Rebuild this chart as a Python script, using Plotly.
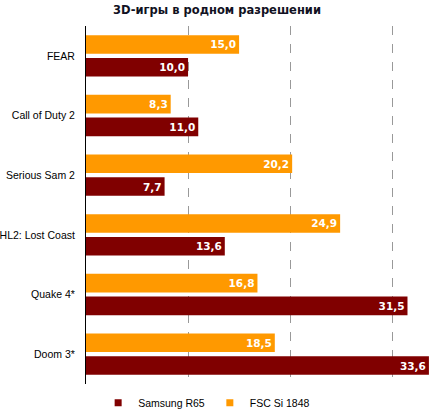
import plotly.graph_objects as go

categories = ["FEAR", "Call of Duty 2", "Serious Sam 2", "HL2: Lost Coast", "Quake 4*", "Doom 3*"]
fsc_values = [15.0, 8.3, 20.2, 24.9, 16.8, 18.5]
samsung_values = [10.0, 11.0, 7.7, 13.6, 31.5, 33.6]
series_names = ["FSC Si 1848", "Samsung R65"]
colors = ["#FF9900", "#800000"]

def fmt(v):
    return f"{v:.1f}".replace(".", ",")

fig = go.Figure()
for name, vals, col in zip(series_names, [fsc_values, samsung_values], colors):
    fig.add_trace(go.Bar(
        y=categories, x=vals, orientation="h", name=name, showlegend=False,
        marker=dict(color=col, line=dict(width=0)),
        text=[fmt(v) for v in vals], textposition="inside",
        insidetextanchor="end",
        textfont=dict(family="'DejaVu Sans', sans-serif", size=10.5, color="white", weight="bold"),
        cliponaxis=False,
    ))
# legend entries with small square markers
for name, col in zip(series_names, colors):
    fig.add_trace(go.Scatter(
        x=[None], y=[None], mode="markers", name=name,
        marker=dict(symbol="square", size=7, color=col),
    ))

fig.update_layout(
    width=434, height=418,
    margin=dict(l=86, r=1, t=26, b=25),
    paper_bgcolor="white", plot_bgcolor="white",
    barmode="group", bargap=0.236, bargroupgap=0.185,
    title=dict(text="<b>3D-игры в родном разрешении</b>", x=0.5, xanchor="center", y=0.985, yanchor="top",
               font=dict(family="'DejaVu Sans', sans-serif", size=11.5, color="#111122")),
    font=dict(family="'Liberation Sans', Arial, sans-serif", size=10.5, color="black"),
    showlegend=True,
    legend=dict(orientation="h", traceorder="reversed", x=0.035, xanchor="left", y=-0.012, yanchor="top",
                font=dict(size=10.5, color="black"), itemwidth=30, bgcolor="rgba(0,0,0,0)"),
    xaxis=dict(range=[0, 34], dtick=10, showticklabels=False, showgrid=True, gridcolor="#999999",
               griddash="dash", gridwidth=1, zeroline=False, showline=False, ticks="", automargin=False),
    yaxis=dict(autorange="reversed", showline=True, linecolor="black", linewidth=1, ticks="",
               ticklabelstandoff=8, showgrid=False, automargin=False),
    uniformtext=dict(mode="show", minsize=8),
)

fig.write_html("out.html")
